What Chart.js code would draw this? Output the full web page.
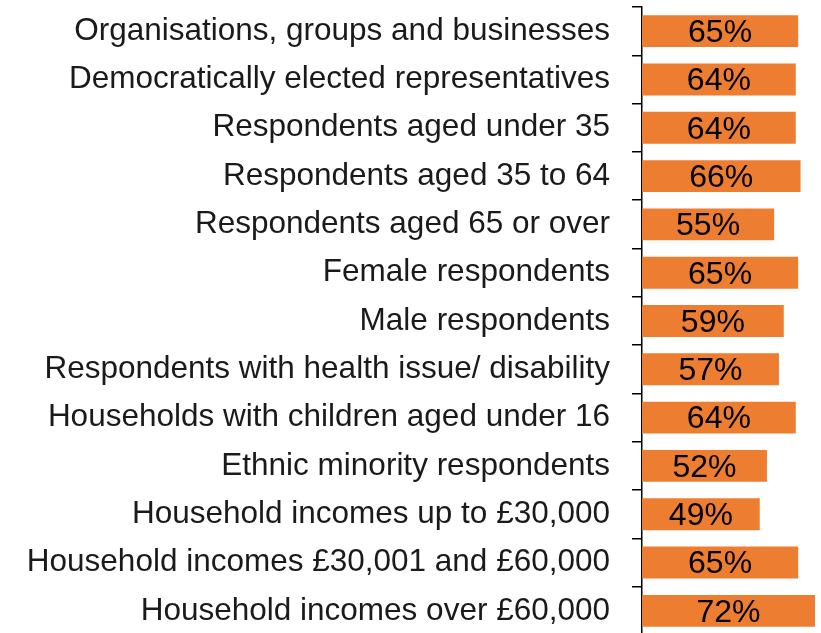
<!DOCTYPE html>
<html>
<head>
<meta charset="utf-8">
<script src="https://cdn.jsdelivr.net/npm/chart.js@4"></script>
<style>
  html, body { margin: 0; padding: 0; background: #fff; overflow: hidden; }
  #wrap { width: 821px; height: 635px; }
</style>
</head>
<body>
<div id="wrap"><canvas id="chart" width="821" height="635"></canvas></div>
<script>
// --- données ---
const categories = [
  'Organisations, groups and businesses',
  'Democratically elected representatives',
  'Respondents aged under 35',
  'Respondents aged 35 to 64',
  'Respondents aged 65 or over',
  'Female respondents',
  'Male respondents',
  'Respondents with health issue/ disability',
  'Households with children aged under 16',
  'Ethnic minority respondents',
  'Household incomes up to £30,000',
  'Household incomes £30,001 and £60,000',
  'Household incomes over £60,000'
];
const values = [65, 64, 64, 66, 55, 65, 59, 57, 64, 52, 49, 65, 72];

const barColor = '#ED7D31';
const labelFont = '"Liberation Sans", Arial, sans-serif';

// labels % au centre des barres
const barLabels = {
  id: 'barLabels',
  afterDatasetsDraw(chart) {
    const ctx = chart.ctx;
    ctx.save();
    ctx.font = '32px ' + labelFont;
    ctx.fillStyle = '#000';
    ctx.textAlign = 'center';
    ctx.textBaseline = 'middle';
    chart.getDatasetMeta(0).data.forEach((bar, i) => {
      const x = (bar.base + bar.x) / 2;
      ctx.fillText(values[i] + '%', x, bar.y + 2);
    });
    ctx.restore();
  }
};

new Chart(document.getElementById('chart'), {
  type: 'bar',
  data: {
    labels: categories,
    datasets: [{
      data: values,
      backgroundColor: barColor,
      borderWidth: 0,
      barPercentage: 0.66,
      categoryPercentage: 1
    }]
  },
  options: {
    indexAxis: 'y',
    responsive: false,
    animation: false,
    layout: { padding: { top: 7, right: 0, bottom: 0, left: 0 } },
    plugins: {
      legend: { display: false },
      tooltip: { enabled: false }
    },
    scales: {
      x: {
        display: false,
        min: 0,
        max: 74.5
      },
      y: {
        afterFit(axis) {
          axis.width = 642;
          axis.paddingTop = 0;
          axis.paddingBottom = 0;
        },
        border: { display: true, color: '#000', width: 1.5 },
        grid: {
          offset: true,
          drawOnChartArea: false,
          drawTicks: true,
          tickLength: 10,
          color: '#000',
          lineWidth: 1.5
        },
        ticks: {
          padding: 22,
          color: '#1a1a1a',
          font: { family: labelFont, size: 31.5 }
        }
      }
    }
  },
  plugins: [barLabels]
});
</script>
</body>
</html>
